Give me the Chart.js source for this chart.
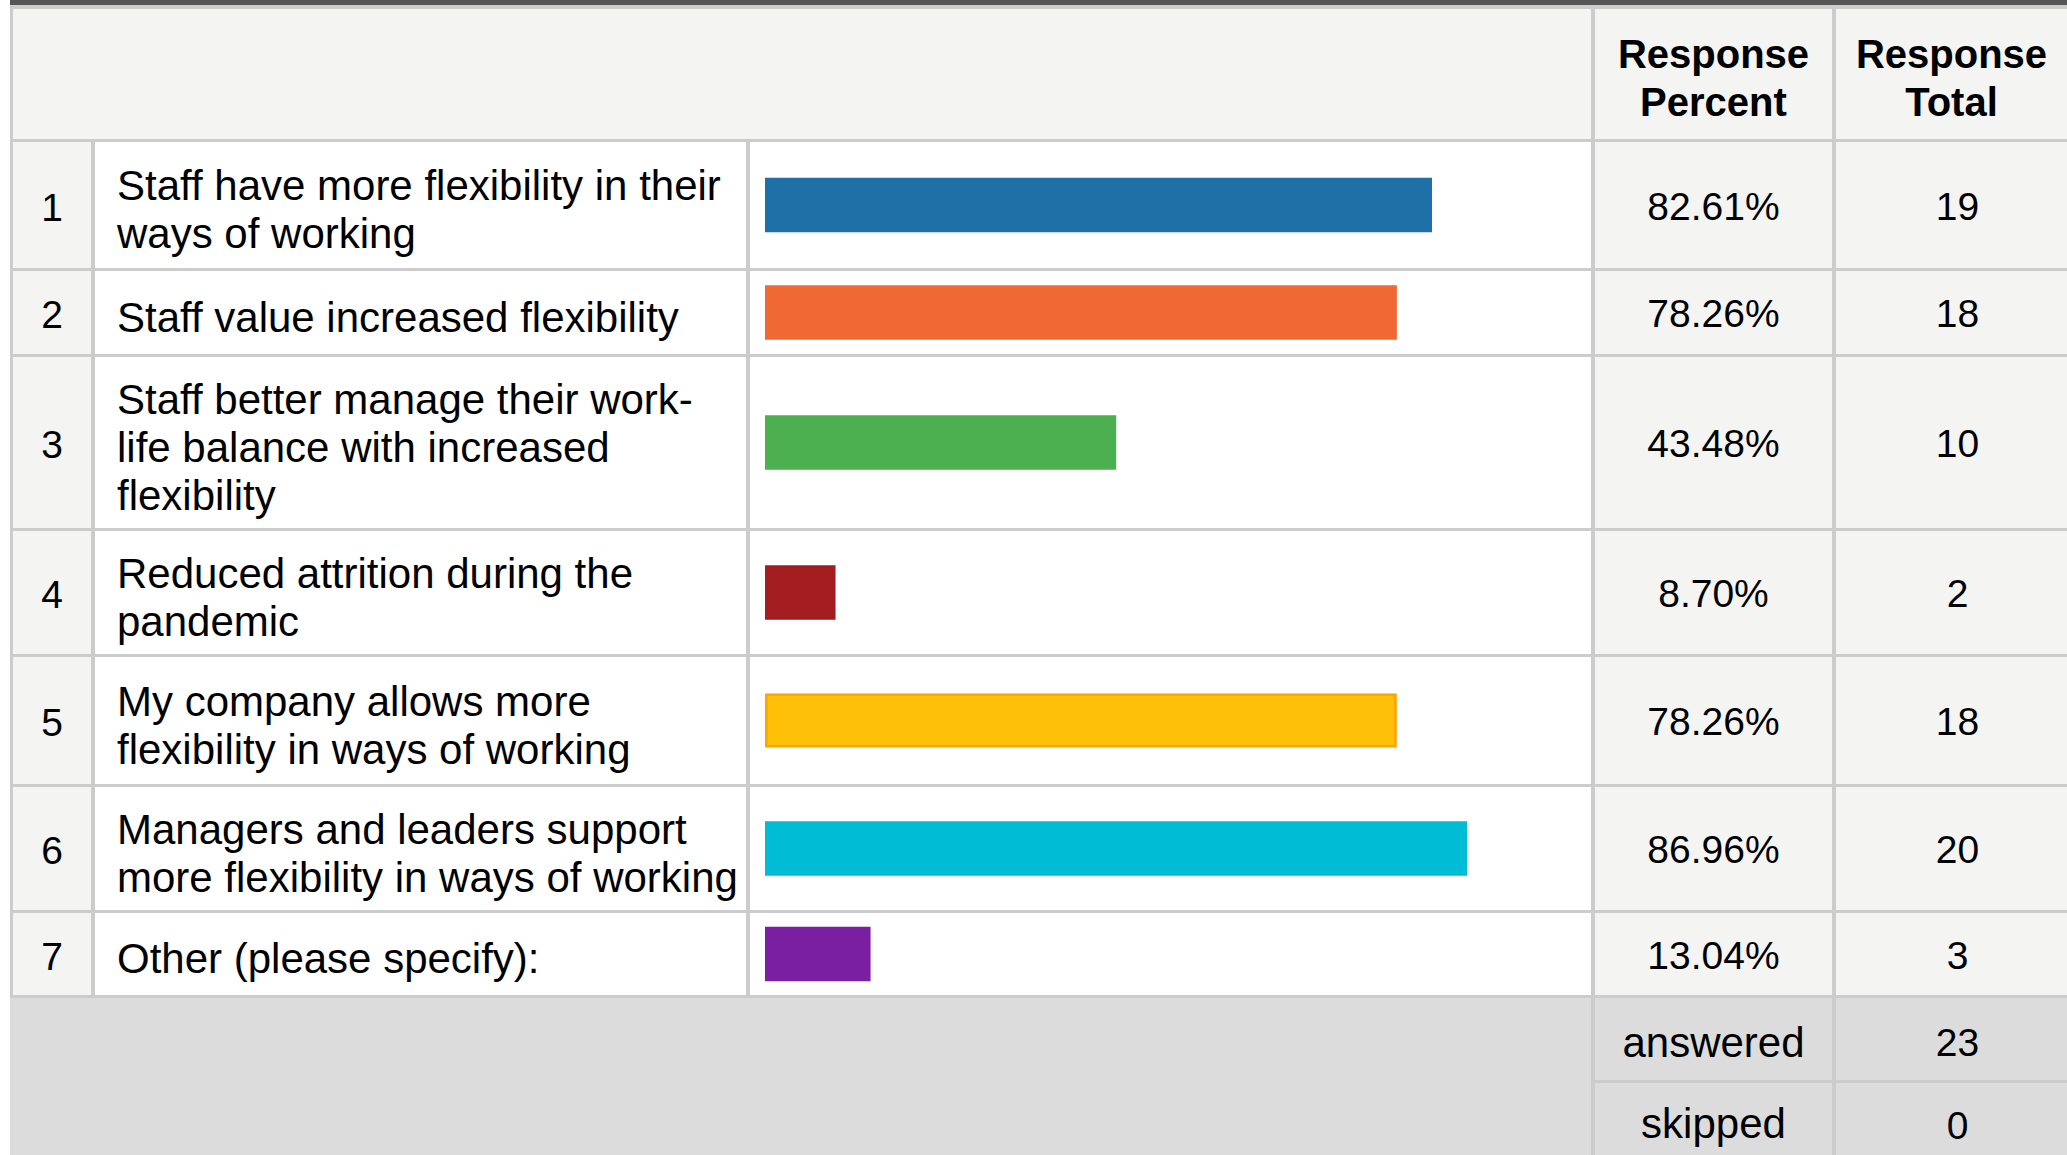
<!DOCTYPE html>
<html>
<head>
<meta charset="utf-8">
<script src="https://cdn.jsdelivr.net/npm/chart.js@4/dist/chart.umd.min.js"></script>
<style>
  html, body { margin: 0; padding: 0; background: #ffffff; width: 2067px; height: 1155px; overflow: hidden; }
  body { font-family: "Liberation Sans", Arial, sans-serif; color: #000; position: relative; }
  #topbar { position: absolute; left: 10px; top: 0; width: 2057px; height: 5px; background: #555555; }
  #grid {
    position: absolute; left: 10px; top: 5px; width: 2057px;
    padding: 4px 0 0 3px; box-sizing: border-box;
    background: #cccccc;
    display: grid;
    grid-template-columns: 78px 651px 841px 237px 1fr;
    grid-template-rows: 130px 126px 83px 171px 123px 127px 123px 82px 82px 82px;
    column-gap: 4px; row-gap: 3px;
  }
  .cell { position: relative; display: flex; align-items: center; justify-content: center; box-sizing: border-box; }
  .num { background: #f4f4f2; font-size: 39px; padding-top: 5px; }
  .lab { background: #ffffff; font-size: 42px; line-height: 48px; justify-content: flex-start; padding-left: 22px; padding-top: 10px; white-space: pre-line; }
  .bar { background: #ffffff; }
  .pct, .tot { background: #f4f4f2; font-size: 39px; padding-top: 3px; }
  .tot { padding-left: 12px; }
  .foot { background: #dcdcdc; }
  .fword { font-size: 42px; }
  .hdr { background: #f4f4f2; font-weight: bold; font-size: 40px; line-height: 48px; text-align: center; align-items: flex-start; padding-top: 21px; padding-left: 0; white-space: pre-line; }
  .barwrap { position: absolute; left: 15px; top: 0; bottom: 0; width: 807px; }
</style>
</head>
<body>
<div id="topbar"></div>
<div id="grid"></div>
<script>
// ---- data ----
const rowNumbers = [1, 2, 3, 4, 5, 6, 7];
const categories = [
  "Staff have more flexibility in their\nways of working",
  "Staff value increased flexibility",
  "Staff better manage their work-\nlife balance with increased\nflexibility",
  "Reduced attrition during the\npandemic",
  "My company allows more\nflexibility in ways of working",
  "Managers and leaders support\nmore flexibility in ways of working",
  "Other (please specify):"
];
const responsePercent = [82.61, 78.26, 43.48, 8.70, 78.26, 86.96, 13.04];
const responseTotal = [19, 18, 10, 2, 18, 20, 3];
const headerLabels = ["Response\nPercent", "Response\nTotal"];
const summaryLabels = ["answered", "skipped"];
const summaryValues = [23, 0];
const barColors = ["#1e70a6", "#f06833", "#4caf50", "#a31c1f", "#ffc107", "#00bcd4", "#7b1fa2"];
const barBorders = [null, null, null, null, "#ffa500", null, null];

// ---- build table ----
const grid = document.getElementById('grid');
function cell(cls, text, style) {
  const d = document.createElement('div');
  d.className = 'cell ' + cls;
  if (text !== undefined && text !== null) d.textContent = text;
  if (style) Object.assign(d.style, style);
  grid.appendChild(d);
  return d;
}
// header
cell('hdr', '', { gridColumn: '1 / span 3' });
cell('hdr', headerLabels[0]);
cell('hdr', headerLabels[1]);

const barCells = [];
categories.forEach((c, i) => {
  cell('num', String(rowNumbers[i]));
  cell('lab', c);
  const b = cell('bar');
  const w = document.createElement('div');
  w.className = 'barwrap';
  const cv = document.createElement('canvas');
  w.appendChild(cv);
  b.appendChild(w);
  barCells.push(cv);
  cell('pct', responsePercent[i].toFixed(2) + '%');
  cell('tot', String(responseTotal[i]));
});
// footer
cell('foot', '', { gridColumn: '1 / span 3', gridRow: '9 / span 2', marginLeft: '-3px' });
summaryLabels.forEach((s, i) => {
  const a = cell('foot fword', s);
  const v = cell('foot pct tot', String(summaryValues[i]));
  if (i === 0) { a.style.paddingTop = '8px'; v.style.paddingTop = '8px'; }
});

// ---- bars via Chart.js ----
barCells.forEach((cv, i) => {
  new Chart(cv, {
    type: 'bar',
    data: {
      labels: [categories[i]],
      datasets: [{
        data: [responsePercent[i]],
        backgroundColor: barColors[i],
        borderColor: barBorders[i] || barColors[i],
        borderWidth: barBorders[i] ? 3 : 0,
        borderSkipped: false,
        barThickness: 54
      }]
    },
    options: {
      indexAxis: 'y',
      responsive: true,
      maintainAspectRatio: false,
      animation: false,
      layout: { padding: 0 },
      plugins: { legend: { display: false }, tooltip: { enabled: false } },
      scales: {
        x: { min: 0, max: 100, display: false },
        y: { display: false }
      }
    }
  });
});
</script>
</body>
</html>
